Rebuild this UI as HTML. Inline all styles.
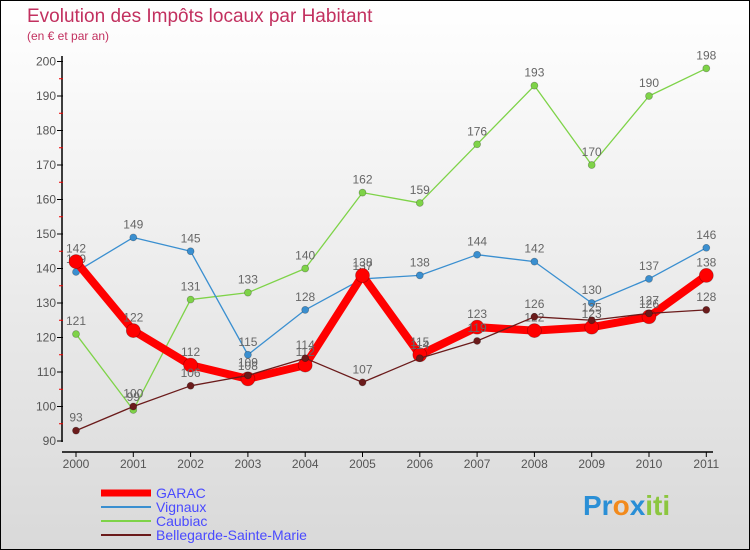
<!DOCTYPE html>
<html><head><meta charset="utf-8"><style>
body{margin:0}
#c{width:750px;height:550px;position:relative;background:linear-gradient(#ffffff,#d9d9d9);border:1px solid #000;box-sizing:border-box;overflow:hidden;font-family:"Liberation Sans",sans-serif}
</style></head><body>
<div id="c">
<svg id="s" width="750" height="550" style="position:absolute;left:0;top:0" font-family="Liberation Sans, sans-serif">
<text x="26" y="21" font-size="19" fill="#c2305f">Evolution des Impôts locaux par Habitant</text>
<text x="26" y="39" font-size="12" fill="#c2305f">(en € et par an)</text>
<g id="axes"></g><g id="series"></g><g id="legend"></g>
<g font-size="28" font-weight="bold">
<text x="582" y="514"><tspan fill="#2a8fd6">Pr</tspan><tspan fill="#f28a1c">o</tspan><tspan fill="#2a8fd6">x</tspan><tspan fill="#8cc63f">iti</tspan></text>
</g>
</svg>
</div>
<script>
const years=[2000,2001,2002,2003,2004,2005,2006,2007,2008,2009,2010,2011];
const yTicks=[90,100,110,120,130,140,150,160,170,180,190,200];
const garac=[142,122,112,108,112,138,115,123,122,123,126,138];
const vignaux=[139,149,145,115,128,137,138,144,142,130,137,146];
const caubiac=[121,99,131,133,140,162,159,176,193,170,190,198];
const bellegarde=[93,100,106,109,114,107,114,119,126,125,127,128];
const NS="http://www.w3.org/2000/svg";
function xs(i){return 75+i*57.3;}
function ys(v){return 440-(v-90)*3.45;}
function mk(tag,a,p){const e=document.createElementNS(NS,tag);for(const k in a)e.setAttribute(k,a[k]);p.appendChild(e);return e;}
const ax=document.getElementById('axes');
let e=mk('line',{x1:61,y1:55,x2:61,y2:441,stroke:'#000','stroke-width':1.5},ax);

e=mk('line',{x1:61,y1:451,x2:712,y2:451,stroke:'#000','stroke-width':1.5},ax);

yTicks.forEach(v=>{
 mk('line',{x1:56,y1:ys(v),x2:62,y2:ys(v),stroke:'#000'},ax);
 if(v<200)mk('line',{x1:58,y1:ys(v+5),x2:62,y2:ys(v+5),stroke:'#e00'},ax);
 const t=mk('text',{x:55,y:ys(v)+4,'font-size':12,fill:'#555','text-anchor':'end'},ax);t.textContent=v;
 
});
years.forEach((y,i)=>{
 mk('line',{x1:xs(i),y1:451,x2:xs(i),y2:456,stroke:'#000'},ax);
 const t=mk('text',{x:xs(i),y:467,'font-size':12,fill:'#555','text-anchor':'middle'},ax);t.textContent=y;
 
});
const sg=document.getElementById('series');
function series(data,color,w,r,name){
 const g=mk('g',{},sg);
 
 
 mk('polyline',{points:data.map((v,i)=>xs(i)+','+ys(v)).join(' '),fill:'none',stroke:color,'stroke-width':w,'stroke-linejoin':'round'},g);
 data.forEach((v,i)=>{
  const c=mk('circle',{cx:xs(i),cy:ys(v),r:r,fill:color,stroke:'rgba(0,0,0,0.3)','stroke-width':0.7},g);
  
  
  const t=mk('text',{x:xs(i),y:ys(v)-9,'font-size':12,fill:'#666','text-anchor':'middle'},g);t.textContent=v;
 });
}
series(caubiac,'#7ed348',1.3,3.5,'caubiac');
series(vignaux,'#3a8fd0',1.3,3.5,'vignaux');
series(garac,'#ff0000',8,7,'garac');
series(bellegarde,'#6b1b1b',1.3,3.5,'bellegarde');
const lg=document.getElementById('legend');
[['GARAC','#ff0000',7],['Vignaux','#3a8fd0',2],['Caubiac','#7ed348',2],['Bellegarde-Sainte-Marie','#6b1b1b',2]].forEach((d,i)=>{
 const y=492+i*14;
 const g=mk('g',{},lg);
 
 
 mk('line',{x1:100,y1:y,x2:150,y2:y,stroke:d[1],'stroke-width':d[2]},g);
 const t=mk('text',{x:155,y:y+5,'font-size':14,fill:'#4a4aff'},g);t.textContent=d[0];
});
</script>
</body></html>
